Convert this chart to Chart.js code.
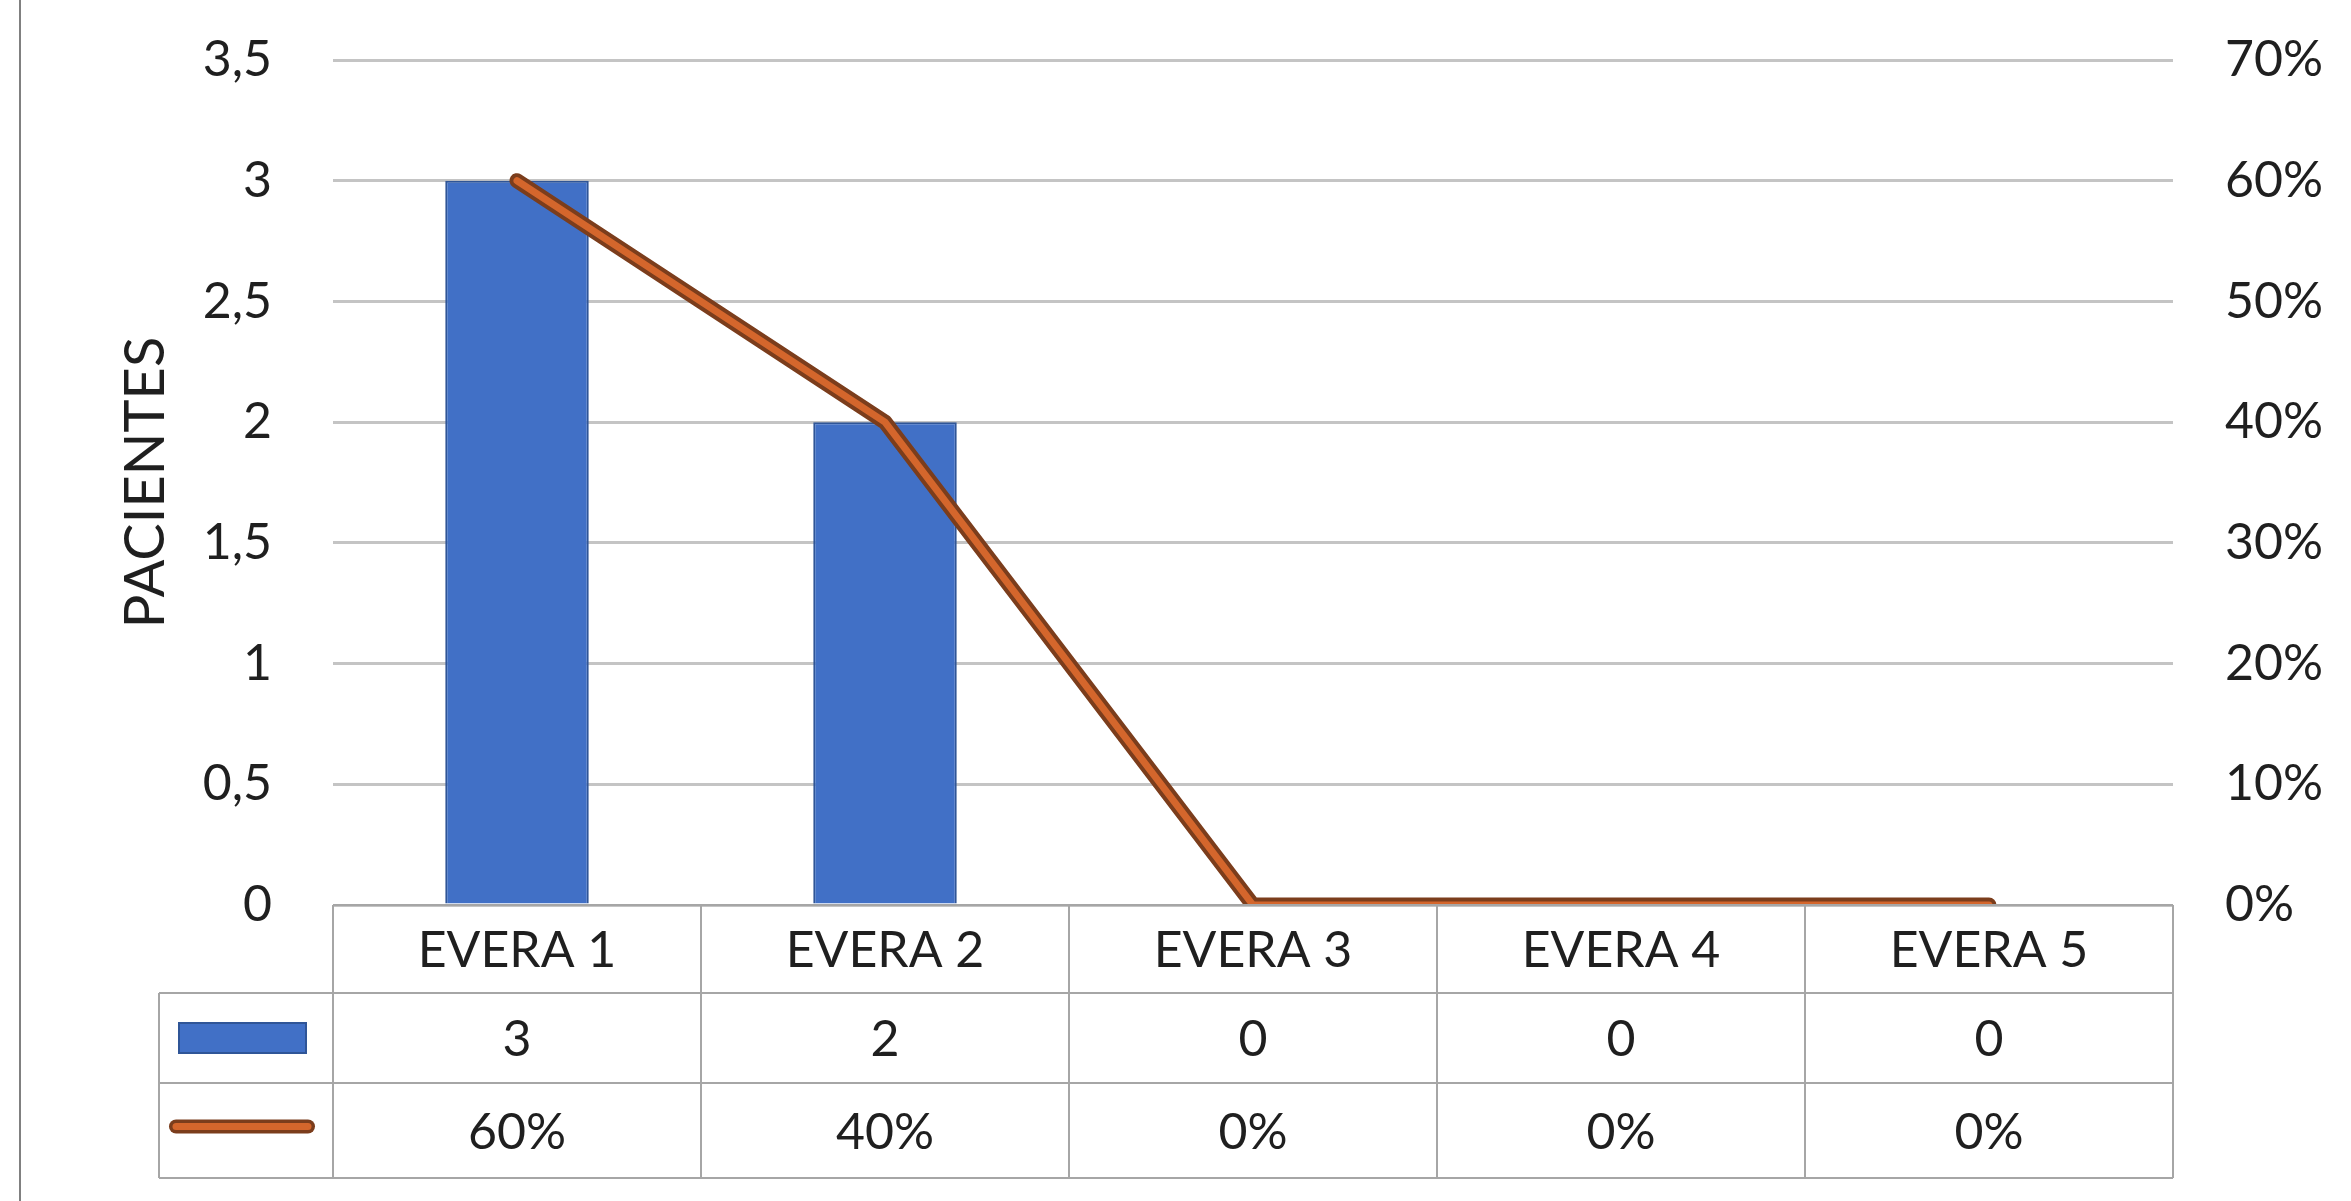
<!DOCTYPE html>
<html lang="es">
<head>
<meta charset="utf-8">
<title>Pacientes por EVERA</title>
<script src="https://cdn.jsdelivr.net/npm/chart.js@4.4.1/dist/chart.umd.min.js"></script>
<style>
  html, body { margin: 0; padding: 0; background: #ffffff; }
  canvas { display: block; }
</style>
</head>
<body>
<canvas id="grafico" width="2351" height="1201"></canvas>
<script>
// Categorías y series
const categorias = ['EVERA 1', 'EVERA 2', 'EVERA 3', 'EVERA 4', 'EVERA 5'];
const pacientes = [3, 2, 0, 0, 0];
const porcentaje = [60, 40, 0, 0, 0];
const tituloEje = 'PACIENTES';

const FUENTE = 'Lato, "Open Sans", sans-serif';
const TEXTO = '#1f1f1f';
const AZUL = '#4170c6';
const AZUL_BORDE = '#2f5597';
const NARANJA = '#d4662c';
const NARANJA_BORDE = '#7b3d1c';
const LINEA_TABLA = '#a6a6a6';

const fmtNum = v => String(v).replace('.', ',');
const fmtPct = v => v + '%';

// Tabla de datos bajo el eje de categorías
const tablaDatos = {
  id: 'tablaDatos',
  beforeDraw(chart) {
    const ctx = chart.ctx;
    ctx.save();
    ctx.fillStyle = '#ffffff';
    ctx.fillRect(0, 0, chart.width, chart.height);
    // borde izquierdo del marco
    ctx.strokeStyle = '#808080';
    ctx.lineWidth = 2;
    ctx.beginPath();
    ctx.moveTo(20, 0);
    ctx.lineTo(20, chart.height);
    ctx.stroke();
    ctx.restore();
  },
  afterDraw(chart) {
    const ctx = chart.ctx;
    const xs = chart.scales.x;
    const area = chart.chartArea;
    const n = chart.data.labels.length;
    const ancho = (area.right - area.left) / n;
    const y0 = area.bottom;
    const y1 = y0 + 88;
    const y2 = y1 + 90;
    const y3 = y2 + 95;
    const izq = 159;

    ctx.save();
    ctx.strokeStyle = LINEA_TABLA;
    ctx.lineWidth = 2;
    ctx.beginPath();
    // líneas horizontales
    ctx.moveTo(area.left, y0); ctx.lineTo(area.right, y0);
    ctx.moveTo(izq, y1); ctx.lineTo(area.right, y1);
    ctx.moveTo(izq, y2); ctx.lineTo(area.right, y2);
    ctx.moveTo(izq, y3); ctx.lineTo(area.right, y3);
    // líneas verticales
    ctx.moveTo(izq, y1); ctx.lineTo(izq, y3);
    for (let i = 0; i <= n; i++) {
      const x = area.left + i * ancho;
      ctx.moveTo(x, y0); ctx.lineTo(x, y3);
    }
    ctx.stroke();

    // textos
    ctx.fillStyle = TEXTO;
    ctx.font = '50px ' + FUENTE;
    ctx.textAlign = 'center';
    ctx.textBaseline = 'middle';
    const barras = chart.data.datasets[0].data;
    const pct = chart.data.datasets[2].data;
    chart.data.labels.forEach((lab, i) => {
      const cx = xs.getPixelForValue(i);
      ctx.fillText(lab, cx, (y0 + y1) / 2 + 2);
      ctx.fillText(fmtNum(barras[i]), cx, (y1 + y2) / 2 + 2);
      ctx.fillText(fmtPct(pct[i]), cx, (y2 + y3) / 2 + 2);
    });

    // claves de serie
    const kx0 = 179, kx1 = 306;
    const ky = (y1 + y2) / 2;
    ctx.fillStyle = AZUL;
    ctx.fillRect(kx0, ky - 15, kx1 - kx0, 30);
    ctx.strokeStyle = AZUL_BORDE;
    ctx.lineWidth = 2;
    ctx.strokeRect(kx0, ky - 15, kx1 - kx0, 30);

    const ly = (y2 + y3) / 2 - 4;
    ctx.lineCap = 'round';
    ctx.strokeStyle = NARANJA_BORDE;
    ctx.lineWidth = 14;
    ctx.beginPath(); ctx.moveTo(176, ly); ctx.lineTo(308, ly); ctx.stroke();
    ctx.strokeStyle = NARANJA;
    ctx.lineWidth = 7;
    ctx.beginPath(); ctx.moveTo(176, ly); ctx.lineTo(308, ly); ctx.stroke();
    ctx.restore();
  }
};

new Chart(document.getElementById('grafico'), {
  type: 'bar',
  data: {
    labels: categorias,
    datasets: [
      {
        type: 'bar',
        data: pacientes,
        yAxisID: 'y',
        backgroundColor: AZUL,
        borderColor: AZUL_BORDE,
        borderWidth: 2,
        categoryPercentage: 1,
        barPercentage: 0.39,
        order: 3
      },
      {
        type: 'line',
        data: porcentaje,
        yAxisID: 'y1',
        borderColor: NARANJA_BORDE,
        borderWidth: 15,
        borderCapStyle: 'round',
        borderJoinStyle: 'round',
        pointRadius: 0,
        tension: 0,
        order: 2
      },
      {
        type: 'line',
        data: porcentaje,
        yAxisID: 'y1',
        borderColor: NARANJA,
        borderWidth: 7,
        borderCapStyle: 'round',
        borderJoinStyle: 'round',
        pointRadius: 0,
        tension: 0,
        order: 1
      }
    ]
  },
  options: {
    responsive: false,
    devicePixelRatio: 1,
    animation: false,
    layout: { padding: { top: 60, bottom: 296, left: 0, right: 0 } },
    plugins: { legend: { display: false }, tooltip: { enabled: false } },
    scales: {
      x: { display: false, offset: true },
      y: {
        position: 'left',
        min: 0,
        max: 3.5,
        border: { display: false },
        grid: {
          color: '#c4c4c4',
          lineWidth: 3,
          drawTicks: true,
          tickLength: 59,
          tickColor: 'rgba(0,0,0,0)'
        },
        ticks: {
          stepSize: 0.5,
          padding: 2,
          color: TEXTO,
          font: { family: FUENTE, size: 50 },
          callback: v => fmtNum(v)
        },
        title: {
          display: true,
          text: tituloEje,
          color: TEXTO,
          font: { family: FUENTE, size: 56 },
          padding: { top: 112, bottom: 0 }
        },
        afterFit: s => { s.width = 333; }
      },
      y1: {
        position: 'right',
        min: 0,
        max: 70,
        border: { display: false },
        grid: {
          drawOnChartArea: false,
          drawTicks: true,
          tickLength: 50,
          tickColor: 'rgba(0,0,0,0)'
        },
        ticks: {
          stepSize: 10,
          padding: 2,
          color: TEXTO,
          font: { family: FUENTE, size: 50 },
          callback: v => fmtPct(v)
        },
        afterFit: s => { s.width = 178; }
      }
    }
  },
  plugins: [tablaDatos]
});
</script>
</body>
</html>
